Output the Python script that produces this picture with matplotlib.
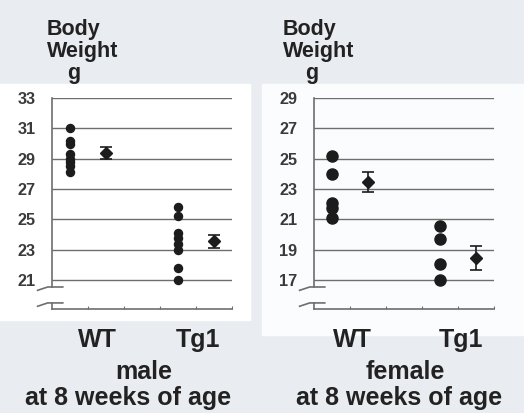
import matplotlib.pyplot as plt
from matplotlib.patches import Rectangle

plt.rcParams['font.family'] = ['Liberation Sans', 'DejaVu Sans']

# body weight (g) of individual mice at 8 weeks
male_wt = [31.0, 30.2, 30.0, 29.3, 29.0, 28.8, 28.5, 28.1]
male_tg = [25.8, 25.2, 24.1, 23.75, 23.4, 23.0, 21.8, 21.0]
female_wt = [25.15, 24.0, 22.1, 21.75, 21.1]
female_tg = [20.55, 19.7, 18.05, 17.0]

# group mean and error bar half-length
male_mean = [29.4, 23.55]
male_err = [0.4, 0.42]
female_mean = [23.45, 18.45]
female_err = [0.65, 0.78]

groups = ["WT", "Tg1"]
yticks_male = [21, 23, 25, 27, 29, 31, 33]
yticks_female = [17, 19, 21, 23, 25, 27, 29]

W, H = 524, 413
fig = plt.figure(figsize=(W / 100, H / 100), dpi=100)
fig.patch.set_facecolor("#e9edf1")


def fx(px):
    return px / W


def fy(py):
    return 1 - py / H


# white card behind each panel
fig.add_artist(Rectangle((fx(0), fy(320)), fx(250), fy(84) - fy(320),
                         transform=fig.transFigure, color="white", zorder=0))
fig.add_artist(Rectangle((fx(262), fy(335)), fx(262), fy(84) - fy(335),
                         transform=fig.transFigure, color="#fbfcfd", zorder=0))

ink = "#1c1c1c"
grid = "#6e6e6e"


def panel(left_px, wt, tg, means, errs, yticks, dot_size):
    ax = fig.add_axes([fx(left_px), fy(309), fx(180), fy(98) - fy(309)])
    ax.set_facecolor("none")
    lo = yticks[0] - 1.9
    ax.set_ylim(lo, yticks[-1])
    ax.set_xlim(0, 5)
    for v in yticks:
        ax.axhline(v, color=grid, lw=1.0, zorder=1)
    ax.set_yticks(yticks)
    ax.set_yticklabels([str(v) for v in yticks], fontsize=11.7,
                       fontweight="bold", color="#3a3a3a")
    ax.tick_params(axis="y", length=0, pad=12)
    ax.set_xticks([1, 2, 3, 4, 5])
    ax.set_xticklabels([])
    ax.tick_params(axis="x", direction="in", length=2, color=grid)
    for s in ["top", "right", "left"]:
        ax.spines[s].set_visible(False)
    ax.spines["bottom"].set_color(grid)
    ax.spines["bottom"].set_linewidth(1.2)

    # broken y axis
    b1 = yticks[0] - 0.45
    b2 = yticks[0] - 1.5
    ax.plot([0, 0], [b1, yticks[-1]], color=grid, lw=1.2, clip_on=False, zorder=2)
    ax.plot([0, 0], [lo, b2], color=grid, lw=1.2, clip_on=False, zorder=2)
    for y0 in (b1, b2):
        ax.plot([-0.4, -0.12, 0.3], [y0 - 0.22, y0, y0], color=grid, lw=1.2,
                clip_on=False, zorder=2)

    ax.plot([0.5] * len(wt), wt, "o", color=ink, ms=dot_size, zorder=3)
    ax.plot([3.5] * len(tg), tg, "o", color=ink, ms=dot_size, zorder=3)
    ax.errorbar([1.5, 4.5], means, yerr=errs, fmt="D", color=ink, ms=6.5,
                capsize=4.5, elinewidth=1.2, capthick=1.2, zorder=3)
    return ax


panel(52, male_wt, male_tg, male_mean, male_err, yticks_male, 5.8)
panel(314, female_wt, female_tg, female_mean, female_err, yticks_female, 8.0)

lab = dict(fontsize=15.5, fontweight="bold", color="#222222", va="baseline")
for x0, gx in ((47, 74), (283, 312)):
    fig.text(fx(x0), fy(35), "Body", ha="left", **lab)
    fig.text(fx(x0), fy(57), "Weight", ha="left", **lab)
    fig.text(fx(gx), fy(79), "g", ha="center", **lab)

big = dict(fontsize=18, fontweight="bold", color="#222222", ha="center",
           va="baseline")
fig.text(fx(97), fy(347), groups[0], **big)
fig.text(fx(198), fy(347), groups[1], **big)
fig.text(fx(352), fy(347), groups[0], **big)
fig.text(fx(461), fy(347), groups[1], **big)
fig.text(fx(144), fy(379), "male", **big)
fig.text(fx(405), fy(379), "female", **big)
fig.text(fx(128), fy(405), "at 8 weeks of age", **big)
fig.text(fx(399), fy(405), "at 8 weeks of age", **big)

fig.savefig("out.png", dpi=100, facecolor=fig.get_facecolor())
